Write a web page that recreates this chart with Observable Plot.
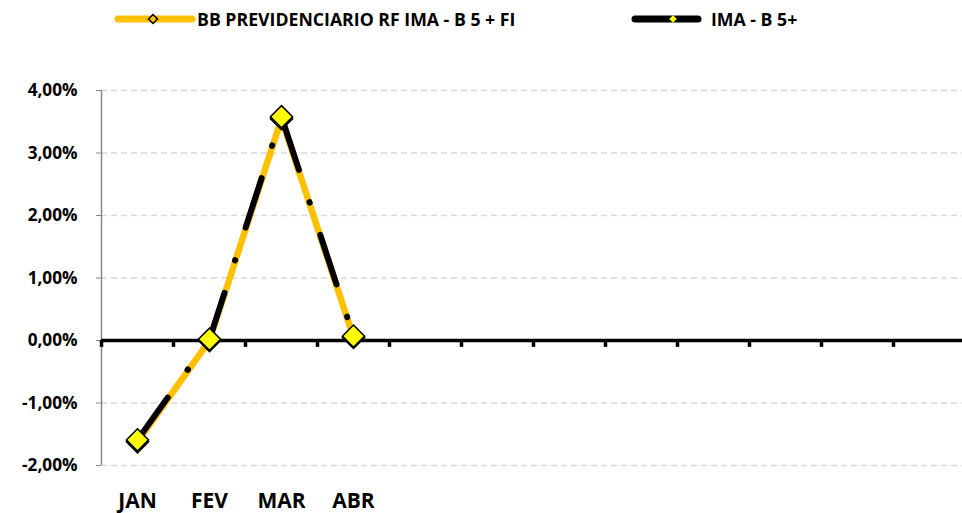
<!DOCTYPE html>
<html>
<head>
<meta charset="utf-8">
<script src="https://cdn.jsdelivr.net/npm/d3@7"></script>
<script src="https://cdn.jsdelivr.net/npm/@observablehq/plot@0.6"></script>
<style>
  html, body { margin: 0; padding: 0; background: #fff; }
  body { font-family: "Open Sans", Lato, sans-serif; width: 962px; height: 513px; overflow: hidden; position: relative; }
  #legend { position: absolute; left: 0; top: 0; width: 962px; height: 40px; font-weight: bold; font-size: 17.7px; color: #000; }
  .item { position: absolute; top: 7px; display: flex; align-items: center; height: 24px; }
  .item svg { display: block; }
  .item span { margin-left: 2px; white-space: nowrap; line-height: 24px; }
  #chart { position: absolute; left: 0; top: 0; }
</style>
</head>
<body>
<div id="chart"></div>
<div id="legend"></div>
<script>
// ---- data ----
const months = ["JAN", "FEV", "MAR", "ABR"];
const monthSlots = 12; // full year of categories on the axis
const seriesNames = ["BB PREVIDENCIARIO RF IMA - B 5 + FI", "IMA - B 5+"];
const fundo = [-1.62, 0.00, 3.55, 0.05];   // BB PREVIDENCIARIO RF IMA - B 5 + FI (%)
const indice = [-1.59, 0.02, 3.58, 0.07];  // IMA - B 5+ (%)
const yTicks = [-2, -1, 0, 1, 2, 3, 4];

// ---- tables ----
const fundoData = months.map((m, i) => ({ i: i + 0.5, m, v: fundo[i] }));
const indiceData = months.map((m, i) => ({ i: i + 0.5, m, v: indice[i] }));
const boundaries = d3.range(0, monthSlots + 1);
const fmt = d => d.toFixed(2).replace(".", ",") + "%";

const yellow = "#FFC000";
const dash = "52,34,0.5,34";

const plot = Plot.plot({
  width: 962,
  height: 513,
  marginTop: 90,
  marginBottom: 48,
  marginLeft: 101,
  marginRight: 0,
  style: { fontFamily: "'Open Sans', Lato, sans-serif", overflow: "visible", background: "transparent" },
  x: { domain: [0, monthSlots], range: [101, 965] },
  y: { domain: [-2, 4] },
  marks: [
    Plot.gridY(yTicks.filter(d => d !== 0), { stroke: "#d9d9d9", strokeOpacity: 1, strokeWidth: 1.5, strokeDasharray: "6,4" }),
    Plot.ruleX([0], { y1: -2, y2: 4, stroke: "#868686", strokeWidth: 1.5 }),
    Plot.axisY(yTicks, {
      label: null, tickSize: 5, tickPadding: 19, tickFormat: fmt,
      stroke: "#868686", fill: "#000", fontSize: 17.2, fontWeight: "bold"
    }),
    Plot.axisX(months.map((m, i) => i + 0.5), {
      label: null, anchor: "bottom", tickSize: 0, tickPadding: 28,
      tickFormat: d => months[Math.floor(d)], fill: "#000", fontSize: 21, fontWeight: "bold"
    }),
    Plot.ruleY([0], { stroke: "#000", strokeWidth: 3.5 }),
    Plot.ruleX(boundaries, { x: d => d, y1: 0, y2: -0.11, stroke: "#000", strokeWidth: 3.5 }),
    Plot.line(fundoData, { x: "i", y: "v", stroke: yellow, strokeWidth: 6.5, strokeLinejoin: "round", strokeLinecap: "round" }),
    Plot.line(indiceData, { x: "i", y: "v", stroke: "#000", strokeWidth: 6, strokeLinecap: "round", strokeDasharray: dash }),
    Plot.dot(fundoData, { x: "i", y: "v", symbol: "diamond2", r: 10, fill: "#FFFF00", stroke: "#000", strokeWidth: 1.5 }),
    Plot.dot(indiceData, { x: "i", y: "v", symbol: "diamond2", r: 10, fill: "#FFFF00", stroke: "#000", strokeWidth: 1.5 })
  ]
});
document.getElementById("chart").appendChild(plot);

// ---- legend ----
const legend = d3.select("#legend");
const legendItems = [
  { name: seriesNames[0], left: 114, len: 74, stroke: yellow, dFill: yellow, dStroke: "#000", dr: 4.5, dx: 35 },
  { name: seriesNames[1], left: 631, len: 63, stroke: "#000", dFill: "#FFFF00", dStroke: "none", dr: 3.8, dx: 38 }
];
legendItems.forEach(it => {
  const div = legend.append("div").attr("class", "item").style("left", it.left + "px");
  const w = it.len + 8;
  const svg = div.append("svg").attr("width", w).attr("height", 24);
  svg.append("line").attr("x1", 4).attr("x2", it.len + 4).attr("y1", 12).attr("y2", 12)
    .attr("stroke", it.stroke).attr("stroke-width", 7).attr("stroke-linecap", "round");
  const c = it.dx + 4, r = it.dr;
  svg.append("path").attr("d", `M${c},${12 - r} L${c + r},12 L${c},${12 + r} L${c - r},12 Z`)
    .attr("fill", it.dFill).attr("stroke", it.dStroke).attr("stroke-width", 1.5);
  div.append("span").text(it.name).style("margin-left", it === legendItems[0] ? "1px" : "9px");
});
</script>
</body>
</html>
